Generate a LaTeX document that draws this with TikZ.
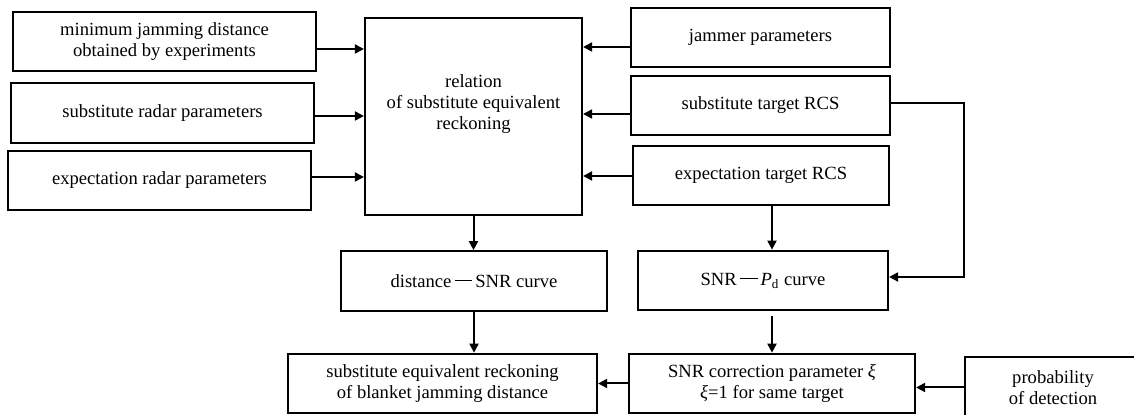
\documentclass[tikz,border=0pt]{standalone}
\usepackage{fontspec}
\setmainfont{Liberation Serif}
\usetikzlibrary{arrows.meta}
\newcommand{\fwdash}{\,\rule[0.33em]{0.95em}{0.06em}\,}

\begin{document}
\begin{tikzpicture}[x=0.5pt, y=-0.5pt, font=\fontsize{9.3}{10.6}\selectfont]
  \tikzstyle{block} = [draw, line width=1.1pt, align=center, inner sep=0pt, minimum height=29.75pt]
  \tikzstyle{flow} = [line width=1pt, -{Triangle[length=4.5pt, width=4.5pt]}]
  \useasboundingbox (0,0) rectangle (1134,415);
  % inputs on the left
  \node[block, minimum width=151.5pt] (mjd) at (164.5,41.5) {minimum jamming distance\\obtained by experiments};
  \node[block, minimum width=151.5pt] (srp) at (162.5,113) {substitute radar parameters};
  \node[block, minimum width=151.5pt] (erp) at (159.5,180.5) {expectation radar parameters};
  % central relation
  \node[block, minimum width=108.5pt, minimum height=98.5pt] (rel) at (473.5,116.5) {};
  \node[align=center] (reltext) at (473.5,104) {relation\\of substitute equivalent\\reckoning};
  % inputs on the right
  \node[block, minimum width=129.5pt] (jam) at (760.5,37.5) {jammer parameters};
  \node[block, minimum width=129.5pt] (str) at (760.5,105.5) {substitute target RCS};
  \node[block, minimum width=128pt] (etr) at (761,175.5) {expectation target RCS};
  % curves
  \node[block, minimum width=133pt] (dsnr) at (474,281) {distance\fwdash SNR curve};
  \node[block, minimum width=125pt] (pd) at (763,280.5) {SNR\fwdash\textit{P}\textsubscript{d} curve};
  % bottom row
  \node[block, minimum width=154.5pt] (seq) at (442.5,383.5) {substitute equivalent reckoning\\of blanket jamming distance};
  \node[block, minimum width=143pt] (spc) at (772,383.5) {SNR correction parameter \textit{ξ}\\\textit{ξ}=1 for same target};
  \node[block, minimum width=88pt, minimum height=30.5pt] (pod) at (1053,387.5) {probability\\of detection};

  \draw[flow] (mjd.east |- 0,49) -- (rel.west |- 0,49);
  \draw[flow] (srp.east |- 0,116) -- (rel.west |- 0,116);
  \draw[flow] (erp.east |- 0,177) -- (rel.west |- 0,177);
  \draw[flow] (jam.west |- 0,47) -- (rel.east |- 0,47);
  \draw[flow] (str.west |- 0,114) -- (rel.east |- 0,114);
  \draw[flow] (etr.west |- 0,176) -- (rel.east |- 0,176);
  \draw[flow] (rel.south) -- (rel.south |- dsnr.north);
  \draw[flow] (dsnr.south) -- (dsnr.south |- seq.north);
  \draw[flow] (etr.south -| 772,0) -- (pd.north -| 772,0);
  \draw[flow] (str.east |- 0,103) -| (964,277) -- (pd.east |- 0,277);
  \draw[flow, shorten <=2.5pt] (spc.north |- pd.south) -- (spc.north);
  \draw[flow] (spc) -- (seq);
  \draw[flow] (pod.west) -- (spc.east |- pod.west);
\end{tikzpicture}
\end{document}
